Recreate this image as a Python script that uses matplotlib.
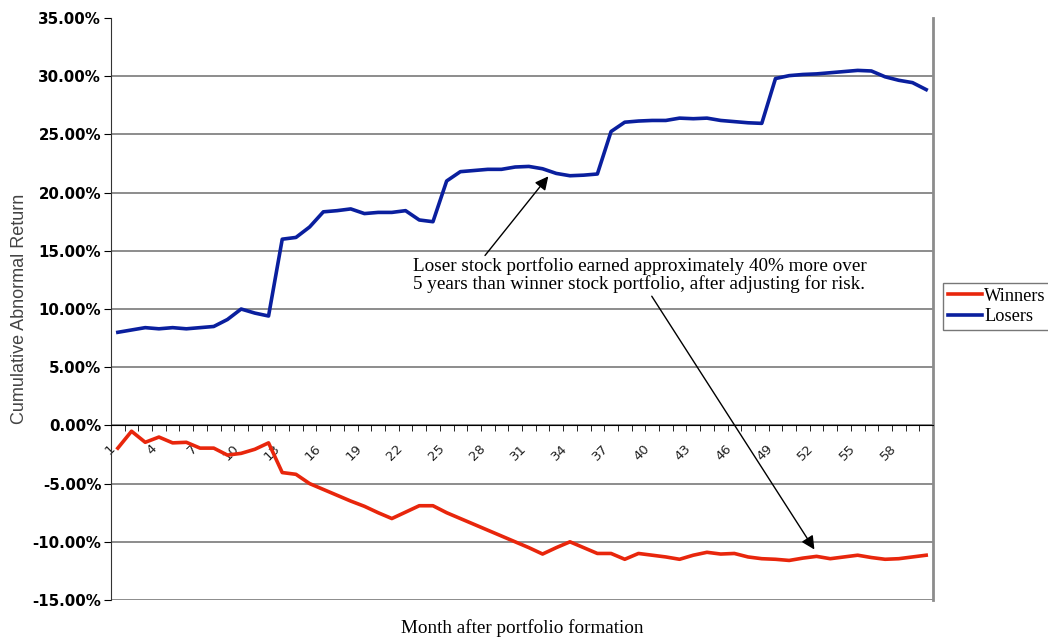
import matplotlib.pyplot as plt
from matplotlib.ticker import FixedLocator, FuncFormatter

# cumulative abnormal return (%) by month after portfolio formation
months = list(range(1, 61))
winners = [-1.95, -0.5, -1.45, -1.0, -1.5, -1.45, -1.95, -1.95, -2.55, -2.4,
           -2.05, -1.5, -4.05, -4.2, -5.0, -5.5, -6.0, -6.5, -6.95, -7.5,
           -8.0, -7.45, -6.9, -6.9, -7.5, -8.0, -8.5, -9.0, -9.5, -10.0,
           -10.5, -11.05, -10.5, -10.0, -10.5, -11.0, -11.0, -11.5, -11.0, -11.15,
           -11.3, -11.5, -11.15, -10.9, -11.05, -11.0, -11.3, -11.45, -11.5, -11.6,
           -11.4, -11.25, -11.45, -11.3, -11.15, -11.35, -11.5, -11.45, -11.3, -11.15]
losers = [8.0, 8.2, 8.4, 8.3, 8.4, 8.3, 8.4, 8.5, 9.1, 10.0,
          9.65, 9.4, 16.0, 16.15, 17.05, 18.35, 18.45, 18.6, 18.2, 18.3,
          18.3, 18.45, 17.65, 17.5, 21.0, 21.8, 21.9, 22.0, 22.0, 22.2,
          22.25, 22.05, 21.65, 21.45, 21.5, 21.6, 25.25, 26.05, 26.15, 26.2,
          26.2, 26.4, 26.35, 26.4, 26.2, 26.1, 26.0, 25.95, 29.8, 30.05,
          30.15, 30.2, 30.3, 30.4, 30.5, 30.45, 29.95, 29.65, 29.45, 28.85]
month_labels = list(range(1, 61, 3))
y_ticks = list(range(-15, 40, 5))

note = ("Loser stock portfolio earned approximately 40% more over\n"
        "5 years than winner stock portfolio, after adjusting for risk.")

serif = ['Liberation Serif', 'DejaVu Serif']

fig = plt.figure(figsize=(10.48, 6.39), dpi=100)
ax = fig.add_axes([0.1059, 0.0610, 0.7844, 0.9108])

ax.plot(months, winners, color='#e8260c', lw=2.6, label='Winners', solid_joinstyle='round')
ax.plot(months, losers, color='#0a1f9e', lw=2.6, label='Losers', solid_joinstyle='round')

ax.set_xlim(0.5, 60.5)
ax.set_ylim(-15, 35)

# horizontal gridlines (none along the top edge)
for v in y_ticks[:-1]:
    ax.axhline(v, color='#6e6e6e', lw=1.1, zorder=0)

# category axis sits on the zero line
ax.spines['bottom'].set_position(('data', 0))
ax.spines['bottom'].set_color('black')
ax.spines['top'].set_visible(False)
ax.spines['right'].set_color('#8c8c8c')
ax.spines['right'].set_linewidth(2)
ax.spines['left'].set_color('#333333')

ax.set_xticks(month_labels)
ax.set_xticklabels([str(m) for m in month_labels], rotation=45, ha='right', va='top',
                   fontsize=9.5, color='#222222')
ax.tick_params(axis='x', which='major', length=0, pad=12)
ax.xaxis.set_minor_locator(FixedLocator([m + 0.5 for m in range(0, 61)]))
ax.tick_params(axis='x', which='minor', length=4, direction='out', color='black')

ax.set_yticks(y_ticks)
ax.yaxis.set_major_formatter(FuncFormatter(lambda v, p: f'{v:.2f}%'))
ax.tick_params(axis='y', length=5, direction='out', pad=2)
for t in ax.get_yticklabels():
    t.set_fontweight('bold')
    t.set_fontsize(10.8)
    t.set_family('DejaVu Sans')

# explanatory note with two arrows
ax.text(22.54, 14.45, note, ha='left', va='top', fontsize=13.8, family=serif, linespacing=0.98)
arrow = dict(arrowstyle='-|>', color='black', lw=1, mutation_scale=20, shrinkA=0, shrinkB=0)
ax.annotate('', xy=(32.42, 21.4), xytext=(27.8, 14.6), arrowprops=arrow)
ax.annotate('', xy=(51.84, -10.66), xytext=(39.97, 11.1), arrowprops=arrow)

fig.text(0.019, 0.516, 'Cumulative Abnormal Return', rotation=90, ha='center', va='center',
         fontsize=13, color='#444444', family='Liberation Sans')
fig.text(0.498, 0.017, 'Month after portfolio formation', ha='center', va='center',
         fontsize=13.8, family=serif)

leg = fig.legend(loc='upper left', bbox_to_anchor=(0.8998, 0.557), frameon=True, fancybox=False,
                 edgecolor='#555555', borderaxespad=0, handlelength=1.9, handletextpad=0.1,
                 labelspacing=0.2, borderpad=0.25, prop={'family': serif, 'size': 13.2})
leg.get_frame().set_linewidth(1)

fig.savefig('out.png', dpi=100)
